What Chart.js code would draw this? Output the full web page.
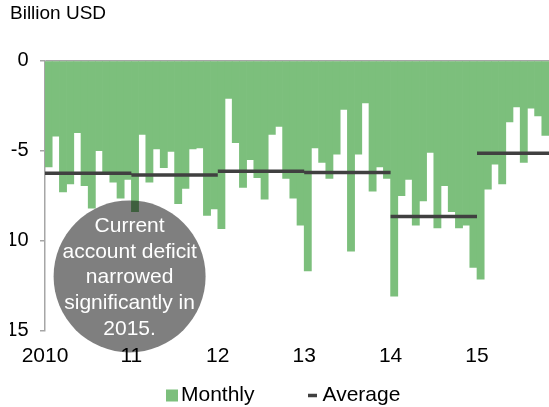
<!DOCTYPE html>
<html>
<head>
<meta charset="utf-8">
<script src="https://cdn.jsdelivr.net/npm/chart.js@4.4.1/dist/chart.umd.min.js"></script>
<style>
    html, body { margin: 0; padding: 0; background: #fff; }
    #wrap { width: 549px; height: 407px; position: relative; }
</style>
</head>
<body>
<div id="wrap"><canvas id="deficitChart"></canvas></div>
<script>
const years = ['2010', '2011', '2012', '2013', '2014', '2015'];
const yearTickLabels = ['2010', '11', '12', '13', '14', '15'];
const monthNames = ['Jan', 'Feb', 'Mar', 'Apr', 'May', 'Jun', 'Jul', 'Aug', 'Sep', 'Oct', 'Nov', 'Dec'];

// monthly current account balance, billion USD
const m2010 = [-5.9, -4.2, -7.3, -6.85, -4.0, -6.95, -8.2, -5.0, -6.3, -6.75, -7.65, -6.6];
const m2011 = [-8.4, -4.1, -6.75, -4.9, -5.95, -5.05, -7.95, -7.1, -4.9, -4.85, -8.6, -8.25];
const m2012 = [-9.35, -2.1, -4.55, -7.05, -5.5, -6.5, -7.7, -4.1, -3.65, -6.55, -7.65, -9.15];
const m2013 = [-11.7, -4.85, -5.65, -6.55, -5.2, -2.7, -10.6, -5.2, -2.35, -7.25, -5.9, -6.55];
const m2014 = [-13.1, -7.5, -6.6, -9.15, -7.8, -5.1, -9.3, -6.95, -8.4, -9.3, -9.15, -11.5];
const m2015 = [-12.15, -7.15, -5.75, -6.85, -3.4, -2.57, -5.65, -2.63, -3.07, -4.15];

const yearlyAverage = [-6.26, -6.35, -6.15, -6.22, -8.66, -5.14];

const noteLines = ['Current', 'account deficit', 'narrowed', 'significantly in', '2015.'];

const byYear = [m2010, m2011, m2012, m2013, m2014, m2015];
const monthly = byYear.flat();
const categories = [];
const yearStarts = [];
byYear.forEach((arr, k) => {
    yearStarts.push(categories.length);
    arr.forEach((v, m) => categories.push(monthNames[m] + ' ' + years[k]));
});

// one flat segment per year, broken by a null point
const averagePoints = [];
yearlyAverage.forEach((a, k) => {
    const from = yearStarts[k] - 0.5;
    const to = (k + 1 < yearStarts.length ? yearStarts[k + 1] : monthly.length) - 0.5;
    averagePoints.push({x: from, y: a}, {x: to, y: a}, {x: to, y: null});
});

const FONT = '"Liberation Sans", Arial, sans-serif';
Chart.defaults.font.family = FONT;
Chart.defaults.color = '#000';

const noteBubble = {
    id: 'noteBubble',
    afterDatasetsDraw(chart) {
        const {ctx, scales} = chart;
        const cx = scales.x2.getPixelForValue(11.25);
        const cy = scales.y.getPixelForValue(-12);
        ctx.save();
        ctx.beginPath();
        ctx.arc(cx, cy, 76, 0, Math.PI * 2);
        ctx.fillStyle = 'rgba(0, 0, 0, 0.5)';
        ctx.fill();
        ctx.fillStyle = '#fff';
        ctx.font = '21px ' + FONT;
        ctx.textAlign = 'center';
        ctx.textBaseline = 'middle';
        noteLines.forEach((t, i) => ctx.fillText(t, cx, cy + 1.3 + (i - 2) * 25.6));
        ctx.restore();
    }
};

const bottomLegend = {
    id: 'bottomLegend',
    afterDraw(chart) {
        const ctx = chart.ctx;
        const y = 395.5;
        ctx.save();
        ctx.font = '21px ' + FONT;
        ctx.textBaseline = 'middle';
        ctx.textAlign = 'left';
        ctx.fillStyle = chart.data.datasets[1].backgroundColor;
        ctx.fillRect(166, y - 6, 12, 12);
        ctx.fillStyle = '#000';
        ctx.fillText(chart.data.datasets[1].label, 181, y);
        ctx.fillStyle = chart.data.datasets[0].borderColor;
        ctx.fillRect(308, y - 1.75, 9, 3.5);
        ctx.fillStyle = '#000';
        ctx.fillText(chart.data.datasets[0].label, 322.5, y);
        ctx.restore();
    }
};

new Chart(document.getElementById('deficitChart'), {
    type: 'bar',
    data: {
        labels: categories,
        datasets: [
            {
                type: 'line',
                label: 'Average',
                data: averagePoints,
                xAxisID: 'x2',
                borderColor: '#404040',
                borderWidth: 3.5,
                pointRadius: 0,
                spanGaps: false,
                order: 0
            },
            {
                label: 'Monthly',
                data: monthly,
                xAxisID: 'x',
                backgroundColor: '#7cbf7c',
                borderWidth: 0,
                grouped: false,
                barPercentage: 1,
                categoryPercentage: 1,
                order: 1
            }
        ]
    },
    options: {
        responsive: true,
        maintainAspectRatio: false,
        animation: false,
        datasets: {
            bar: {barPercentage: 1, categoryPercentage: 1}
        },
        layout: {
            padding: {left: 10, right: 0, top: 0, bottom: 25.5}
        },
        plugins: {
            legend: {display: false},
            tooltip: {enabled: false},
            title: {
                display: true,
                text: 'Billion USD',
                align: 'start',
                color: '#000',
                font: {size: 19, weight: 'normal'},
                padding: {top: 2, bottom: 36}
            }
        },
        scales: {
            x: {
                display: false,
                offset: true
            },
            x2: {
                type: 'linear',
                position: 'bottom',
                offset: false,
                min: -0.5,
                max: monthly.length - 0.5,
                grid: {display: false, drawTicks: false, offset: false},
                border: {display: false},
                afterBuildTicks: (scale) => {
                    scale.ticks = yearStarts.map(v => ({value: v - 0.5}));
                },
                ticks: {
                    autoSkip: false,
                    maxRotation: 0,
                    padding: 13,
                    font: {size: 21},
                    color: '#000',
                    callback: (v, i) => yearTickLabels[i]
                }
            },
            y: {
                min: -15,
                max: 0,
                afterFit: (scale) => { scale.width = 35; },
                ticks: {
                    stepSize: 5,
                    padding: 11.5,
                    font: {size: 20},
                    color: '#000'
                },
                grid: {
                    color: (c) => (c.tick && c.tick.value === 0 ? '#a6a6a6' : 'rgba(0,0,0,0)'),
                    tickColor: '#a6a6a6',
                    tickLength: 5,
                    lineWidth: 1.5
                },
                border: {color: '#a6a6a6', width: 1.5}
            }
        }
    },
    plugins: [noteBubble, bottomLegend]
});
</script>
</body>
</html>
